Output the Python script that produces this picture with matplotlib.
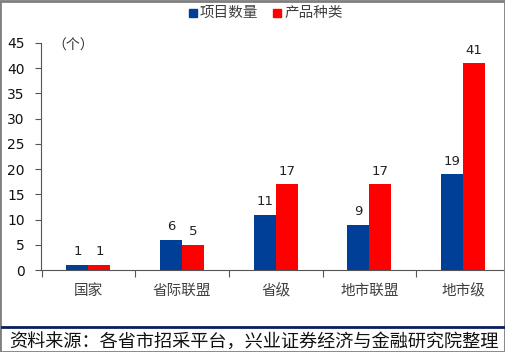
import matplotlib
matplotlib.use("Agg")
import matplotlib.pyplot as plt
from matplotlib.patches import Rectangle
from matplotlib.lines import Line2D
import numpy as np

categories = ["国家", "省际联盟", "省级", "地市联盟", "地市级"]
projects = [1, 6, 11, 9, 19]
products = [1, 5, 17, 17, 41]
series_names = ["项目数量", "产品种类"]
yticks = [0, 5, 10, 15, 20, 25, 30, 35, 40, 45]
source = "资料来源：各省市招采平台，兴业证券经济与金融研究院整理"

BLUE = "#003F98"
RED = "#FF0000"
CJK = ["Noto Sans CJK SC", "DejaVu Sans"]

W, H = 506, 352
fig = plt.figure(figsize=(W / 100, H / 100), dpi=100)
fig.patch.set_facecolor("white")

ax = fig.add_axes([41.5 / W, 1 - 270 / H, (510 - 41.5) / W, (270 - 43) / H])
x = np.arange(len(categories))
bw = 0.235
ax.bar(x - bw / 2, projects, bw, color=BLUE, zorder=3)
ax.bar(x + bw / 2, products, bw, color=RED, zorder=3)
for xi, v in zip(x, projects):
    ax.text(xi - bw / 2, v + 1.3, str(v), ha="center", va="bottom", fontsize=9.5, color="#222222")
for xi, v in zip(x, products):
    ax.text(xi + bw / 2, v + 1.3, str(v), ha="center", va="bottom", fontsize=9.5, color="#222222")

ax.set_xlim(-0.5, len(categories) - 0.5)
ax.set_ylim(0, 45)
ax.set_yticks(yticks)
ax.set_yticklabels([str(t) for t in yticks], fontsize=10, color="#111111")
ax.set_xticks(np.arange(-0.5, len(categories) - 0.5, 1.0), minor=False)
ax.set_xticklabels([])
ax.set_xticks(x, minor=True)
ax.set_xticklabels(categories, minor=True, fontsize=10.5, color="#404040", family=CJK)
ax.tick_params(axis="x", which="major", length=5, color="#555555", direction="out")
ax.tick_params(axis="x", which="minor", length=0, pad=10)
ax.tick_params(axis="y", length=4, color="#555555", pad=8)
for s in ["top", "right"]:
    ax.spines[s].set_visible(False)
ax.spines["left"].set_color("#555555")
ax.spines["bottom"].set_color("#555555")
ax.spines["left"].set_linewidth(0.8)
ax.spines["bottom"].set_linewidth(0.8)
ax.set_facecolor("none")

fig.text(52 / W, 1 - 46 / H, "（个）", fontsize=10, family=CJK, color="#333333", va="center", ha="left")

# legend
fig.patches.append(Rectangle((189 / W, 1 - 17 / H), 8 / W, 8 / H, transform=fig.transFigure,
                             color=BLUE, figure=fig))
fig.text(200 / W, 1 - 13 / H, series_names[0], fontsize=10.5, family=CJK, color="#404040", va="center", ha="left")
fig.patches.append(Rectangle((273 / W, 1 - 17 / H), 8 / W, 8 / H, transform=fig.transFigure,
                             color=RED, figure=fig))
fig.text(284 / W, 1 - 13 / H, series_names[1], fontsize=10.5, family=CJK, color="#404040", va="center", ha="left")

# bottom rule and source
fig.add_artist(Line2D([2 / W, 504 / W], [1 - 327 / H, 1 - 327 / H], transform=fig.transFigure,
                      color="#0A1F5C", lw=2))
fig.text(254 / W, 1 - 342 / H, source, fontsize=13.1, family=CJK, color="#111111",
         va="center", ha="center")

# frame
fig.patches.append(Rectangle((0.5 / W, 0.5 / H), (W - 1.5) / W, (H - 1.5) / H, transform=fig.transFigure,
                             fill=False, edgecolor="#7F7F7F", lw=2, figure=fig))

fig.savefig("out.png", dpi=100, facecolor="white")
